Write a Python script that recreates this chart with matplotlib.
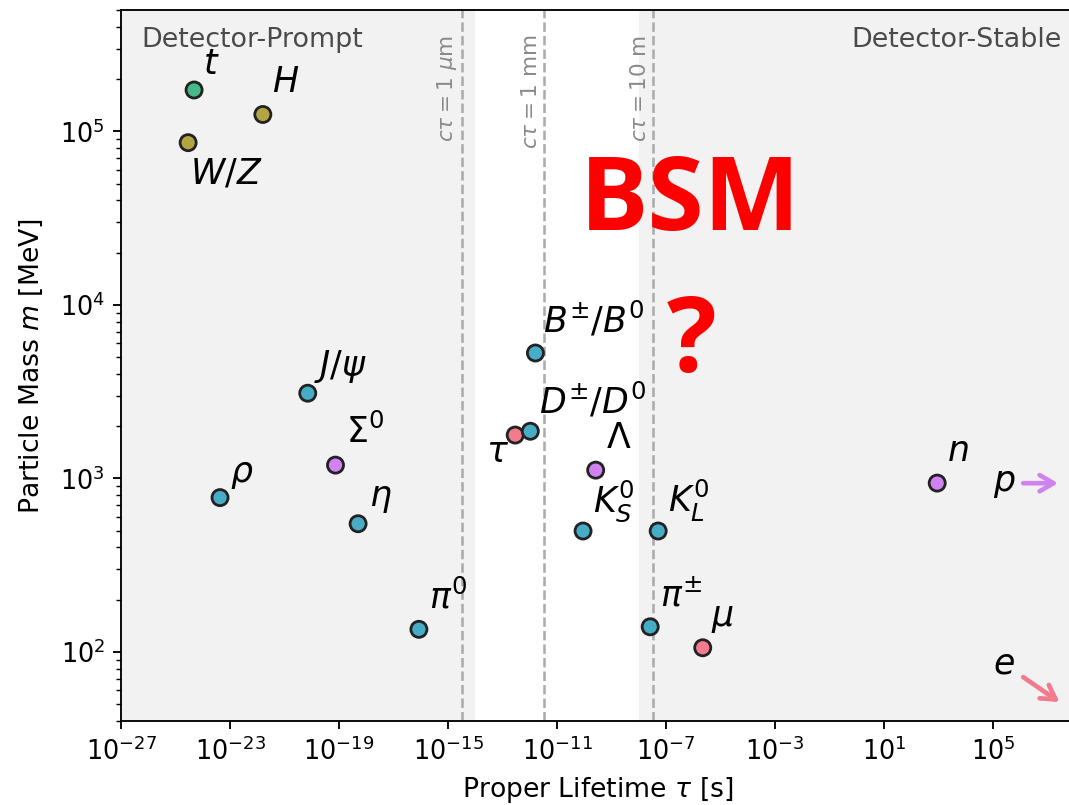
import matplotlib
matplotlib.use('Agg')
import matplotlib.pyplot as plt
from matplotlib.ticker import NullLocator

# particle data: proper lifetime [s], mass [MeV]
names = ['t', 'W/Z', 'H', 'rho', 'Jpsi', 'Sigma0', 'eta', 'pi0', 'tau', 'D', 'B',
         'KS', 'Lambda', 'pipm', 'KL', 'mu', 'n']
labels = [r'$t$', r'$W/Z$', r'$H$', r'$\rho$', r'$J/\psi$', r'$\Sigma^0$', r'$\eta$',
          r'$\pi^0$', r'$\tau$', r'$D^{\pm}/D^0$', r'$B^{\pm}/B^0$', r'$K_S^0$',
          r'$\Lambda$', r'$\pi^{\pm}$', r'$K_L^0$', r'$\mu$', r'$n$']
lifetimes = [4.8e-25, 2.9e-25, 1.6e-22, 4.3e-24, 7.1e-21, 7.4e-20, 5.0e-19,
             8.5e-17, 2.9e-13, 1.04e-12, 1.6e-12, 8.95e-11, 2.6e-10, 2.6e-8,
             5.1e-8, 2.2e-6, 880.0]
masses = [173000, 86000, 125000, 775, 3097, 1193, 548, 135, 1777, 1869, 5279,
          497.6, 1115.7, 139.6, 497.6, 105.7, 939.6]
kinds = ['top', 'boson', 'boson', 'meson', 'meson', 'baryon', 'meson', 'meson',
         'lepton', 'meson', 'meson', 'meson', 'baryon', 'meson', 'meson',
         'lepton', 'baryon']

# stable particles shown with arrows (mass only)
m_proton = 938.3
m_electron = 0.511

# c*tau lines
ctau_dist = [1e-6, 1e-3, 10.0]
ctau_text = [r'$c\tau = 1\ \mu$m', r'$c\tau = 1$ mm', r'$c\tau = 10$ m']
c_light = 2.998e8

palette = {'top': '#45b98c', 'boson': '#b2a643', 'meson': '#47adc6',
           'baryon': '#cf82f0', 'lepton': '#f27b8d'}

# label offsets in pixels (dx, dy, ha, va)
offsets = [(9, 9, 'left', 'bottom'), (2, -14, 'left', 'top'), (9, 15, 'left', 'bottom'),
           (10, 7, 'left', 'bottom'), (6, 8, 'left', 'bottom'), (11, 15, 'left', 'bottom'),
           (11, 9, 'left', 'bottom'), (10, 14, 'left', 'bottom'), (-6, 0, 'right', 'top'),
           (9, 11, 'left', 'bottom'), (8, 13, 'left', 'bottom'), (10, 7, 'left', 'bottom'),
           (10, 15, 'left', 'bottom'), (10, 14, 'left', 'bottom'), (10, 7, 'left', 'bottom'),
           (8, 13, 'left', 'bottom'), (10, 15, 'left', 'bottom')]

DPI = 167
W, H = 1069, 805
fig = plt.figure(figsize=(W / DPI, H / DPI), dpi=DPI)
ax = fig.add_axes([121 / W, 1 - 721 / H, 954 / W, 711 / H])

ax.set_xscale('log')
ax.set_yscale('log')
ax.set_xlim(1e-27, 1e8)
ax.set_ylim(40, 5e5)

# detector regions
ax.axvspan(1e-30, 1e-14, color='#f2f2f2', lw=0, zorder=0)
ax.axvspan(1e-8, 1e10, color='#f2f2f2', lw=0, zorder=0)

for d, txt in zip(ctau_dist, ctau_text):
    t = d / c_light
    ax.axvline(t, color='#ababab', ls='--', lw=1.1, zorder=1)
    ax.annotate(txt, xy=(t, 0.965), xycoords=('data', 'axes fraction'),
                xytext=(-3, 0), textcoords='offset pixels', rotation=90,
                ha='right', va='top', color='#8a8a8a', fontsize=9.3)

ax.text(0.021, 0.976, 'Detector-Prompt', transform=ax.transAxes, ha='left',
        va='top', fontsize=11.6, color='#4a4a4a')
ax.text(0.986, 0.976, 'Detector-Stable', transform=ax.transAxes, ha='right',
        va='top', fontsize=11.6, color='#4a4a4a')

cols = [palette[k] for k in kinds]
ax.scatter(lifetimes, masses, s=48, c=cols, edgecolors='#222222',
           linewidths=1.2, zorder=3)

for lab, x, y, (dx, dy, ha, va) in zip(labels, lifetimes, masses, offsets):
    ax.annotate(lab, xy=(x, y), xytext=(dx, dy), textcoords='offset pixels',
                ha=ha, va=va, fontsize=15, zorder=4)

# proton and electron off the right edge
arrow_style = '->,head_length=0.6,head_width=0.35'
ax.text(1e5, m_proton, r'$p$', ha='left', va='center', fontsize=15)
ax.annotate('', xy=(2.4e7, m_proton), xytext=(1.26e6, m_proton),
            arrowprops=dict(arrowstyle=arrow_style, color=palette['baryon'],
                            lw=2, shrinkA=0, shrinkB=0))
ax.text(1e5, 86, r'$e$', ha='left', va='center', fontsize=15)
ax.annotate('', xy=(2.7e7, 51.4), xytext=(1.26e6, 71.6),
            arrowprops=dict(arrowstyle=arrow_style, color=palette['lepton'],
                            lw=2, shrinkA=0, shrinkB=0))

fig.text(690 / W, 1 - 230 / H, 'BSM', ha='center', va='baseline', color='red',
         fontsize=44, fontweight='bold', family='Open Sans')
fig.text(692 / W, 1 - 372 / H, '?', ha='center', va='baseline', color='red',
         fontsize=45, fontweight='bold', family='Open Sans')

ax.set_xticks([10.0 ** e for e in range(-27, 6, 4)])
ax.xaxis.set_minor_locator(NullLocator())
ax.tick_params(labelsize=11)
ax.set_xlabel(r'Proper Lifetime $\tau$ [s]', fontsize=11.5)
ax.set_ylabel(r'Particle Mass $m$ [MeV]', fontsize=11.5)
ax.yaxis.set_label_coords(-0.08, 0.5)

fig.savefig('out.png', dpi=DPI)
